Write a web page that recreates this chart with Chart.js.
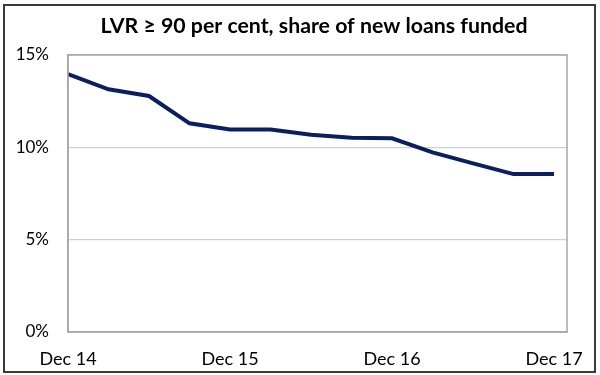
<!DOCTYPE html>
<html>
<head>
<meta charset="utf-8">
<script src="https://cdn.jsdelivr.net/npm/chart.js@4"></script>
<style>
html,body{margin:0;padding:0;background:#fff;}
#wrap{width:600px;height:375px;position:relative;}
</style>
</head>
<body>
<div id="wrap"><canvas id="c" width="600" height="375"></canvas></div>
<script>
const quarters = ["Dec 14","Mar 15","Jun 15","Sep 15","Dec 15","Mar 16","Jun 16","Sep 16","Dec 16","Mar 17","Jun 17","Sep 17","Dec 17"];
const lvr90Share = [13.97, 13.14, 12.78, 11.3, 10.97, 10.97, 10.68, 10.52, 10.49, 9.73, 9.13, 8.55, 8.55];
const xTickIndexes = [0, 4, 8, 12];
const yTicks = [0, 5, 10, 15];
const titleText = "LVR \u2265 90 per cent, share of new loans funded";

const FONT = "Lato, 'Open Sans', sans-serif";

const points = lvr90Share.map((v, i) => ({x: i, y: v}));

const framePlugin = {
  id: 'frame',
  beforeDraw(chart) {
    const ctx = chart.ctx;
    ctx.save();
    ctx.fillStyle = '#ffffff';
    ctx.fillRect(0, 0, chart.width, chart.height);
    ctx.restore();
  },
  afterDraw(chart) {
    const ctx = chart.ctx;
    const a = chart.chartArea;
    ctx.save();
    ctx.strokeStyle = '#a6a6a6';
    ctx.lineWidth = 1.5;
    ctx.strokeRect(a.left, a.top, a.right - a.left, a.bottom - a.top);
    ctx.strokeStyle = '#3a3a3a';
    ctx.lineWidth = 2;
    ctx.strokeRect(4, 5, 591, 367);
    ctx.fillStyle = '#000';
    ctx.font = "bold 21.3px " + FONT;
    ctx.textAlign = 'center';
    ctx.textBaseline = 'alphabetic';
    ctx.fillText(titleText, 314, 33);
    ctx.restore();
  }
};

new Chart(document.getElementById('c'), {
  type: 'line',
  data: {
    datasets: [{
      data: points,
      borderColor: '#0b1f5e',
      borderWidth: 4,
      pointRadius: 0,
      tension: 0,
      fill: false
    }]
  },
  options: {
    responsive: false,
    animation: false,
    layout: { padding: { left: 0, right: 33, top: 55, bottom: 0 } },
    plugins: {
      legend: { display: false },
      tooltip: { enabled: false },
      title: { display: false }
    },
    scales: {
      x: {
        type: 'linear',
        min: 0,
        max: 12.32,
        afterBuildTicks(axis) { axis.ticks = xTickIndexes.map(v => ({value: v})); },
        afterFit(axis) { axis.height = 43; },
        grid: { display: false, drawTicks: false },
        border: { display: true, color: '#a6a6a6', width: 1.5 },
        ticks: {
          padding: 16,
          maxRotation: 0,
          autoSkip: false,
          color: '#000',
          font: { family: FONT, size: 18 },
          callback: (v) => quarters[v] ?? ''
        }
      },
      y: {
        min: 0,
        max: 15,
        afterBuildTicks(axis) { axis.ticks = yTicks.map(v => ({value: v})); },
        afterFit(axis) { axis.width = 68; },
        grid: { color: '#d0d0d0', lineWidth: 1.2, drawTicks: false },
        border: { display: true, color: '#a6a6a6', width: 1.5 },
        ticks: {
          padding: 19,
          color: '#000',
          font: { family: FONT, size: 17 },
          callback: (v) => v + '%'
        }
      }
    }
  },
  plugins: [framePlugin]
});
</script>
</body>
</html>
